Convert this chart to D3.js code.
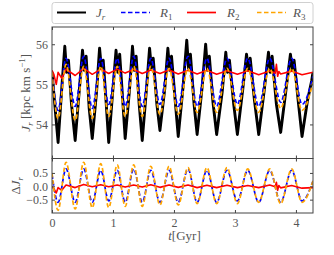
<!DOCTYPE html>
<html>
<head>
<meta charset="utf-8">
<script src="https://cdn.jsdelivr.net/npm/d3@7"></script>
<style>
  html, body { margin: 0; padding: 0; background: #fff; }
  svg text { font-family: "Liberation Serif", "DejaVu Serif", serif; }
</style>
</head>
<body>
<div id="chart"></div>
<script>
'use strict'

////////////////////////////////////
//////////////// data //////////////
////////////////////////////////////

// times of the oscillation extrema (start, trough, peak, trough, ...), Gyr
const extremaT = [0, 0.10, 0.23, 0.38, 0.52, 0.66, 0.80, 0.93, 1.07, 1.20, 1.34, 1.48, 1.62, 1.77, 1.92,
    2.07, 2.23, 2.38, 2.54, 2.70, 2.87, 3.04, 3.21, 3.39, 3.57, 3.75, 3.93, 4.10, 4.28]

// top panel, J_r of the models
const r1Top = [55.3, 54.35, 55.65, 54.45, 55.7, 54.4, 55.65, 54.5, 55.65, 54.45, 55.7, 54.45, 55.65, 54.5, 55.65,
    54.45, 55.7, 54.45, 55.65, 54.45, 55.65, 54.5, 55.65, 54.45, 55.65, 54.55, 55.65, 54.5, 55.2]
const r3Top = [55.3, 54.15, 55.5, 54.1, 55.45, 54.15, 55.45, 54.2, 55.45, 54.2, 55.45, 54.2, 55.45, 54.25, 55.4,
    54.25, 55.4, 54.3, 55.4, 54.3, 55.4, 54.35, 55.4, 54.3, 55.4, 54.4, 55.4, 54.35, 55.05]

// bottom panel, Delta J_r
const r1Bot = [0.45, -0.6, 0.65, -0.6, 0.65, -0.6, 0.6, -0.55, 0.6, -0.6, 0.65, -0.6, 0.6, -0.6, 0.6,
    -0.6, 0.65, -0.6, 0.6, -0.6, 0.6, -0.55, 0.6, -0.6, 0.6, -0.6, 0.6, -0.55, 0.2]
const r3Bot = [0.5, -0.9, 0.9, -0.85, 0.9, -0.8, 0.85, -0.8, 0.8, -0.75, 0.8, -0.75, 0.75, -0.7, 0.75,
    -0.7, 0.7, -0.65, 0.7, -0.65, 0.7, -0.65, 0.65, -0.6, 0.65, -0.65, 0.65, -0.6, 0.2]

// R_2 (red), its own time samples because of the glitch near 3.7 Gyr
const r2T = [0, 0.03, 0.07, 0.10, 0.16, 0.23, 0.38, 0.52, 0.66, 0.80, 0.93, 1.07, 1.20, 1.34, 1.48, 1.62, 1.77, 1.92,
    2.07, 2.23, 2.38, 2.54, 2.70, 2.87, 3.04, 3.21, 3.39, 3.57, 3.66, 3.68, 3.70, 3.72, 3.75, 3.93, 4.10, 4.28]
const r2Top = [55.35, 55.25, 55.0, 55.3, 55.15, 55.38, 55.22, 55.4, 55.25, 55.38, 55.27, 55.38, 55.28, 55.37, 55.27, 55.36, 55.27, 55.36,
    55.26, 55.35, 55.26, 55.35, 55.25, 55.34, 55.25, 55.34, 55.24, 55.33, 55.28, 55.5, 55.2, 55.32, 55.26, 55.33, 55.24, 55.3]
const r2Bot = [0.0, -0.1, -0.25, -0.05, -0.15, 0.05, -0.05, 0.07, -0.02, 0.06, -0.02, 0.05, -0.03, 0.05, -0.03, 0.06, -0.04, 0.05,
    -0.04, 0.05, -0.05, 0.04, -0.05, 0.04, -0.05, 0.03, -0.05, 0.05, -0.02, 0.15, -0.15, 0.03, -0.06, 0.03, -0.07, -0.05]

// J_r (black, noisy)
const jrT = [0, 0.04, 0.10, 0.16, 0.21, 0.24, 0.27, 0.32,
    0.38, 0.45, 0.50, 0.53, 0.56, 0.61,
    0.66, 0.73, 0.78, 0.81, 0.84, 0.89,
    0.93, 1.00, 1.05, 1.08, 1.11, 1.16,
    1.20, 1.27, 1.32, 1.35, 1.38, 1.43,
    1.48, 1.55, 1.60, 1.63, 1.66, 1.72,
    1.77, 1.85, 1.90, 1.93, 1.96, 2.02,
    2.07, 2.15, 2.21, 2.24, 2.27, 2.33,
    2.38, 2.46, 2.52, 2.55, 2.58, 2.64,
    2.70, 2.79, 2.85, 2.88, 2.91, 2.98,
    3.04, 3.13, 3.19, 3.22, 3.25, 3.32,
    3.39, 3.48, 3.55, 3.58, 3.61, 3.68,
    3.75, 3.84, 3.91, 3.94, 3.97, 4.04,
    4.10, 4.19, 4.26, 4.28]
const jrTop = [55.3, 54.6, 53.55, 54.9, 55.95, 55.3, 55.6, 54.5,
    53.6, 54.9, 55.85, 55.35, 55.7, 54.4,
    53.65, 54.8, 55.9, 55.4, 55.6, 54.5,
    53.55, 54.9, 55.85, 55.3, 55.75, 54.6,
    53.65, 54.85, 55.95, 55.35, 55.7, 54.5,
    53.6, 54.9, 55.9, 55.4, 55.65, 54.5,
    53.85, 54.9, 55.9, 55.35, 55.7, 54.6,
    53.7, 54.95, 56.1, 55.4, 55.75, 54.5,
    53.75, 54.9, 56.0, 55.35, 55.7, 54.55,
    53.75, 54.8, 55.8, 55.3, 55.6, 54.5,
    53.75, 54.9, 55.75, 55.35, 55.65, 54.6,
    53.75, 54.85, 55.8, 55.3, 55.7, 54.5,
    53.8, 54.9, 55.75, 55.35, 55.6, 54.55,
    53.7, 54.6, 55.1, 55.3]

const xTicks = [0, 1, 2, 3, 4]
const topTicks = [54, 55, 56]
const botTicks = [-0.5, 0, 0.5]

////////////////////////////////////
//////////// svg setup /////////////
////////////////////////////////////

const svgWidth = 334
const svgHeight = 255
const left = 52, right = 313
const topY0 = 27, topY1 = 158.5, botY1 = 213

const svg = d3.select('#chart')
    .append('svg')
    .attr('width', svgWidth)
    .attr('height', svgHeight)

const x = d3.scaleLinear().domain([0, 4.28]).range([left, right])
const yTop = d3.scaleLinear().domain([53.15, 56.43]).range([topY1, topY0])
const yBot = d3.scaleLinear().domain([-1.0, 1.04]).range([botY1, topY1])

const colors = { jr: '#000', r1: '#0000ff', r2: '#ff0000', r3: '#ffa500' }
const textCol = '#555'
const frameCol = '#444'
const dashes = '4.5,2.5'

const defs = svg.append('defs')
defs.append('clipPath').attr('id', 'clipTop')
    .append('rect').attr('x', left).attr('y', topY0).attr('width', right - left).attr('height', topY1 - topY0)
defs.append('clipPath').attr('id', 'clipBot')
    .append('rect').attr('x', left).attr('y', topY1).attr('width', right - left).attr('height', botY1 - topY1)

const zip = (ts, vs) => ts.map((t, i) => [t, vs[i]])

function drawLine(g, data, y, col, width, dash, curve) {
    g.append('path')
        .datum(data)
        .attr('fill', 'none')
        .attr('stroke', col)
        .attr('stroke-width', width)
        .attr('stroke-linejoin', 'round')
        .attr('stroke-dasharray', dash)
        .attr('d', d3.line().x(d => x(d[0])).y(d => y(d[1])).curve(curve))
}

////////////////////////////////////
//////////// top panel /////////////
////////////////////////////////////

const gTop = svg.append('g').attr('clip-path', 'url(#clipTop)')
drawLine(gTop, zip(jrT, jrTop), yTop, colors.jr, 2.9, null, d3.curveLinear)
drawLine(gTop, zip(extremaT, r1Top), yTop, colors.r1, 1.7, dashes, d3.curveMonotoneX)
drawLine(gTop, zip(r2T, r2Top), yTop, colors.r2, 1.6, null, d3.curveLinear)
drawLine(gTop, zip(extremaT, r3Top), yTop, colors.r3, 1.7, dashes, d3.curveMonotoneX)

////////////////////////////////////
/////////// bottom panel ///////////
////////////////////////////////////

const gBot = svg.append('g').attr('clip-path', 'url(#clipBot)')
drawLine(gBot, zip(extremaT, r1Bot), yBot, colors.r1, 1.7, dashes, d3.curveMonotoneX)
drawLine(gBot, zip(r2T, r2Bot), yBot, colors.r2, 1.6, null, d3.curveLinear)
drawLine(gBot, zip(extremaT, r3Bot), yBot, colors.r3, 1.7, dashes, d3.curveMonotoneX)

////////////////////////////////////
/////////////// axes ///////////////
////////////////////////////////////

function styleAxis(g) {
    g.select('.domain').remove()
    g.selectAll('line').attr('stroke', frameCol)
    g.selectAll('text').attr('fill', textCol).style('font-size', '12px')
}

// top panel
svg.append('g').attr('transform', `translate(${left},0)`)
    .call(d3.axisLeft(yTop).tickValues(topTicks).tickSize(-3).tickPadding(4).tickFormat(d3.format('d')))
    .call(styleAxis)
svg.append('g').attr('transform', `translate(${right},0)`)
    .call(d3.axisRight(yTop).tickValues(topTicks).tickSize(-3).tickFormat(''))
    .call(styleAxis)
svg.append('g').attr('transform', `translate(0,${topY0})`)
    .call(d3.axisTop(x).tickValues(xTicks).tickSize(-3).tickFormat(''))
    .call(styleAxis)
svg.append('g').attr('transform', `translate(0,${topY1})`)
    .call(d3.axisBottom(x).tickValues(xTicks).tickSize(-3).tickFormat(''))
    .call(styleAxis)

// bottom panel
svg.append('g').attr('transform', `translate(${left},0)`)
    .call(d3.axisLeft(yBot).tickValues(botTicks).tickSize(-3).tickPadding(4).tickFormat(d3.format('.1f')))
    .call(styleAxis)
svg.append('g').attr('transform', `translate(${right},0)`)
    .call(d3.axisRight(yBot).tickValues(botTicks).tickSize(-3).tickFormat(''))
    .call(styleAxis)
svg.append('g').attr('transform', `translate(0,${topY1})`)
    .call(d3.axisTop(x).tickValues(xTicks).tickSize(-3).tickFormat(''))
    .call(styleAxis)
svg.append('g').attr('transform', `translate(0,${botY1})`)
    .call(d3.axisBottom(x).tickValues(xTicks).tickSize(-3).tickPadding(5).tickFormat(d3.format('d')))
    .call(styleAxis)

// frames
svg.append('rect').attr('x', left).attr('y', topY0).attr('width', right - left).attr('height', topY1 - topY0)
    .attr('fill', 'none').attr('stroke', frameCol).attr('stroke-width', 1)
svg.append('rect').attr('x', left).attr('y', topY1).attr('width', right - left).attr('height', botY1 - topY1)
    .attr('fill', 'none').attr('stroke', frameCol).attr('stroke-width', 1)

// axis labels
const xl = svg.append('text')
    .attr('x', (left + right) / 2 + 2).attr('y', 240)
    .attr('text-anchor', 'middle').attr('fill', textCol).style('font-size', '13px')
xl.append('tspan').style('font-style', 'italic').text('t')
xl.append('tspan').text('[Gyr]')

const yl = svg.append('text')
    .attr('transform', `translate(30,${(topY0 + topY1) / 2}) rotate(-90)`)
    .attr('text-anchor', 'middle').attr('fill', textCol).style('font-size', '13px')
yl.append('tspan').style('font-style', 'italic').text('J')
yl.append('tspan').attr('dy', 3).style('font-size', '9px').style('font-style', 'italic').text('r')
yl.append('tspan').attr('dy', -3).text(' [kpc km s')
yl.append('tspan').attr('dy', -5).style('font-size', '9px').text('−1')
yl.append('tspan').attr('dy', 5).text(']')

const yl2 = svg.append('text')
    .attr('transform', `translate(20,${(topY1 + botY1) / 2}) rotate(-90)`)
    .attr('text-anchor', 'middle').attr('fill', textCol).style('font-size', '13px')
yl2.append('tspan').text('Δ')
yl2.append('tspan').style('font-style', 'italic').text('J')
yl2.append('tspan').attr('dy', 3).style('font-size', '9px').style('font-style', 'italic').text('r')

////////////////////////////////////
////////////// legend //////////////
////////////////////////////////////

const legendItems = [
    { key: 'jr', base: 'J', sub: 'r', subItalic: true, dash: null, x0: 57, tx: 96 },
    { key: 'r1', base: 'R', sub: '1', subItalic: false, dash: dashes, x0: 121, tx: 160 },
    { key: 'r2', base: 'R', sub: '2', subItalic: false, dash: null, x0: 187, tx: 227 },
    { key: 'r3', base: 'R', sub: '3', subItalic: false, dash: dashes, x0: 257, tx: 293 }
]

const legend = svg.append('g')
legend.append('rect')
    .attr('x', left).attr('y', 2.5).attr('width', right - left).attr('height', 21)
    .attr('rx', 2.5).attr('fill', '#fff').attr('stroke', '#d0d0d0').attr('stroke-width', 1)

legendItems.forEach(d => {
    legend.append('line')
        .attr('x1', d.x0).attr('x2', d.x0 + 29).attr('y1', 12.5).attr('y2', 12.5)
        .attr('stroke', colors[d.key]).attr('stroke-width', d.key === 'jr' ? 2 : 1.7)
        .attr('stroke-dasharray', d.dash)
    const t = legend.append('text')
        .attr('x', d.tx).attr('y', 17)
        .attr('fill', textCol).style('font-size', '13px')
    t.append('tspan').style('font-style', 'italic').text(d.base)
    t.append('tspan').attr('dy', 3).style('font-size', '9px')
        .style('font-style', d.subItalic ? 'italic' : 'normal').text(d.sub)
})
</script>
</body>
</html>
